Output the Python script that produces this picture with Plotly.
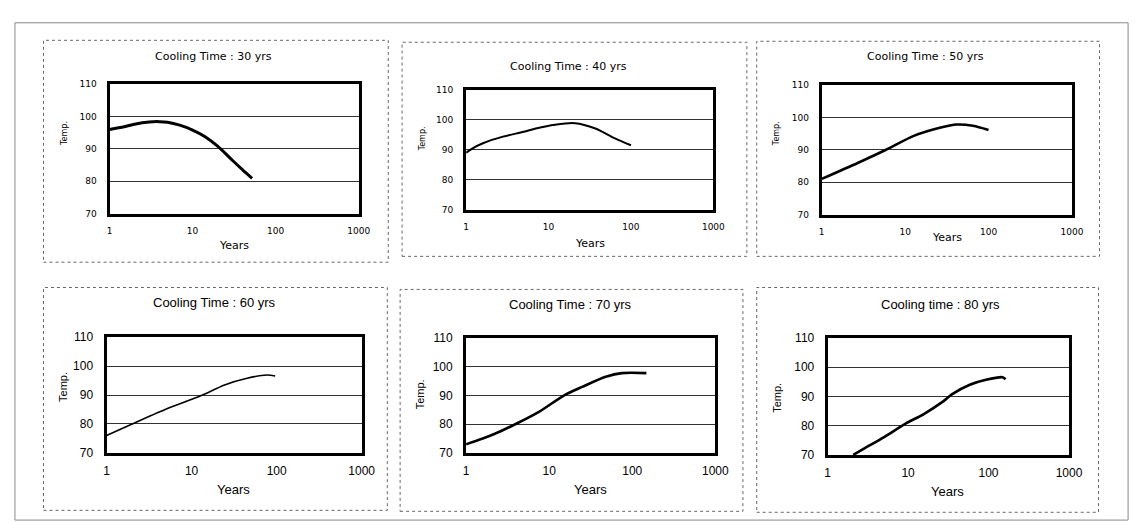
import plotly.graph_objects as go

W, H = 1140, 522

# ---- data ----
titles = ["Cooling Time : 30 yrs", "Cooling Time : 40 yrs", "Cooling Time : 50 yrs",
          "Cooling Time : 60 yrs", "Cooling Time : 70 yrs", "Cooling time : 80 yrs"]

years_30 = [1, 1.5, 2, 3, 4, 5, 7, 10, 14, 20, 30, 40, 52]
temp_30 = [96, 96.8, 97.6, 98.3, 98.4, 98.2, 97.3, 95.8, 93.8, 90.8, 86.5, 83.5, 80.9]

years_40 = [1, 1.2, 1.6, 2.8, 5, 7, 12, 21, 37, 64, 100]
temp_40 = [89, 90.5, 92.2, 94.4, 96, 97.1, 98.4, 98.9, 97.1, 93.8, 91.5]

years_50 = [1, 2.74, 5.9, 12.7, 26, 41.5, 65, 100]
temp_50 = [81, 86, 90, 94.3, 96.8, 97.8, 97.4, 96.1]

years_60 = [1, 2, 4.9, 13, 24.4, 45, 77, 96]
temp_60 = [76, 80, 85, 89.8, 93.5, 95.8, 96.9, 96.6]

years_70 = [1, 2.15, 3.9, 7.7, 15, 25, 48, 75, 148]
temp_70 = [73, 76.5, 80, 84.5, 90, 93, 96.5, 97.8, 97.8]

years_80 = [2.08, 2.9, 5.1, 9.3, 15.7, 27.6, 35, 58.5, 93, 149, 163]
temp_80 = [70, 72.3, 76.2, 80.7, 84, 88.4, 90.7, 94, 95.7, 96.6, 95.9]

y_ticks = [70, 80, 90, 100, 110]
x_ticks = [1, 10, 100, 1000]
x_tick_text = ["1", "10", "100", "1000"]

series = [(years_30, temp_30), (years_40, temp_40), (years_50, temp_50),
          (years_60, temp_60), (years_70, temp_70), (years_80, temp_80)]

# ---- layout geometry (pixels) ----
plot_px = [(100, 353, 71, 204), (462, 713, 77, 200), (823, 1077, 72, 205),
           (97, 356, 331, 450), (462, 715, 332, 450), (829, 1074, 332, 452)]
box_px = [(33, 383, 26, 254), (397, 747, 28, 248), (757, 1105, 27, 248),
          (33, 382, 280, 509), (395, 743, 282, 510), (757, 1104, 280, 511)]
title_pos = [(206, 43), (566, 53), (928, 43), (207, 295), (568, 297), (944, 297)]
temp_pos = [(55, 122), (418, 127), (777, 122), (53, 382), (415, 390), (778, 393)]
years_pos = [(226, 237), (588, 235), (950, 229), (226, 488), (588, 488), (951, 490)]
line_w = [3, 2, 2.6, 1.6, 2.6, 2.6]

def px(x):
    return x / W

def py(y):
    return 1 - y / H

fig = go.Figure()
shapes = []
annotations = []

# outer frame
shapes.append(dict(type="rect", xref="paper", yref="paper",
                   x0=px(4), x1=px(1134), y0=py(519), y1=py(8),
                   line=dict(color="#888888", width=1)))

for i in range(6):
    row = i // 3
    k = "" if i == 0 else str(i + 1)
    x0, x1, y0, y1 = plot_px[i]
    small = row == 0
    fam = "DejaVu Sans" if small else "Liberation Sans"
    tick_size = 9 if small else 12

    xs, ys = series[i]
    fig.add_trace(go.Scatter(x=xs, y=ys, mode="lines",
                             line=dict(color="black", width=line_w[i], shape="spline", smoothing=0.8),
                             xaxis="x" + k, yaxis="y" + k, showlegend=False,
                             hoverinfo="skip"))

    fig.layout["xaxis" + k] = dict(
        domain=[px(x0), px(x1)], anchor="y" + k, type="log", range=[0, 3],
        tickvals=x_ticks, ticktext=x_tick_text, showgrid=False, zeroline=False,
        showline=True, mirror=True, linecolor="black", linewidth=3,
        ticks="", ticklabelstandoff=7 if small else 5,
        tickfont=dict(family=fam, size=tick_size, color="black"))
    fig.layout["yaxis" + k] = dict(
        domain=[py(y1), py(y0)], anchor="x" + k, range=[70, 110],
        tickvals=y_ticks, showgrid=True, gridcolor="#333333", gridwidth=1,
        zeroline=False, showline=True, mirror=True, linecolor="black", linewidth=3,
        ticks="", ticklabelstandoff=8,
        tickfont=dict(family=fam, size=tick_size, color="black"))

    bx0, bx1, by0, by1 = box_px[i]
    shapes.append(dict(type="rect", xref="paper", yref="paper",
                       x0=px(bx0), x1=px(bx1), y0=py(by1), y1=py(by0),
                       line=dict(color="#666666", width=1, dash="dot")))

    tx, ty = title_pos[i]
    annotations.append(dict(text=titles[i], x=px(tx), y=py(ty), xref="paper", yref="paper",
                            showarrow=False, xanchor="center", yanchor="middle",
                            font=dict(family=fam, size=11 if small else 13, color="black")))
    ax, ay = temp_pos[i]
    annotations.append(dict(text="Temp.", x=px(ax), y=py(ay), xref="paper", yref="paper",
                            showarrow=False, xanchor="center", yanchor="middle", textangle=-90,
                            font=dict(family=fam, size=8 if small else 11, color="black")))
    yx, yy = years_pos[i]
    annotations.append(dict(text="Years", x=px(yx), y=py(yy), xref="paper", yref="paper",
                            showarrow=False, xanchor="center", yanchor="middle",
                            font=dict(family=fam, size=11 if small else 13, color="black")))

fig.update_layout(width=W, height=H, margin=dict(l=0, r=0, t=0, b=0),
                  paper_bgcolor="white", plot_bgcolor="white",
                  shapes=shapes, annotations=annotations, showlegend=False)

fig.write_html("out.html")
